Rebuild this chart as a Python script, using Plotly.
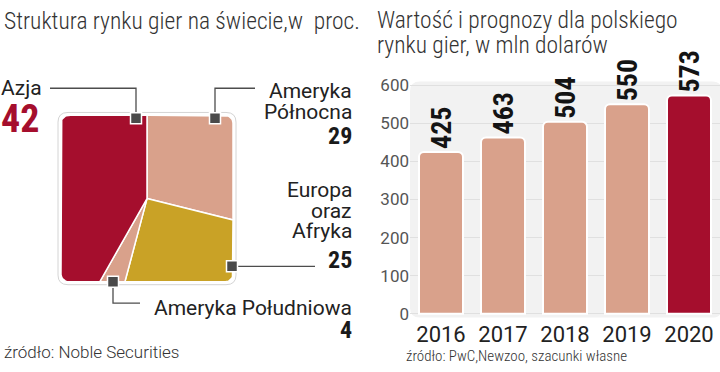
import numpy as np
import plotly.graph_objects as go

# ---------------- data ----------------
pie_labels = ["Ameryka Północna", "Europa oraz Afryka", "Ameryka Południowa", "Azja"]
pie_values = [29, 25, 4, 42]
pie_colors = ["#d9a18b", "#c9a226", "#d9a18b", "#a50e2d"]

years = ["2016", "2017", "2018", "2019", "2020"]
market_values = [425, 463, 504, 550, 573]
bar_colors = ["#d9a18b", "#d9a18b", "#d9a18b", "#d9a18b", "#a50e2d"]
y_ticks = [0, 100, 200, 300, 400, 500, 600]

title_left = "Struktura rynku gier na świecie,w\u00a0 proc."
title_right = ["Wartość i prognozy dla polskiego", "rynku gier, w mln dolarów"]
source_left = "źródło: Noble Securities"
source_right = "źródło: PwC,Newzoo, szacunki własne"

W, H = 720, 372
COND = "Roboto Condensed, Roboto"
SANS = "Roboto"


def px(x):
    return x / W


def py(y):
    return 1 - y / H


def rrect_path(x0, y0, x1, y1, r):
    rx, ry = r, r
    s = (f"M {px(x0 + rx)} {py(y0)} L {px(x1 - rx)} {py(y0)} "
         f"Q {px(x1)} {py(y0)} {px(x1)} {py(y0 + ry)} "
         f"L {px(x1)} {py(y1 - ry)} Q {px(x1)} {py(y1)} {px(x1 - rx)} {py(y1)} "
         f"L {px(x0 + rx)} {py(y1)} Q {px(x0)} {py(y1)} {px(x0)} {py(y1 - ry)} "
         f"L {px(x0)} {py(y0 + ry)} Q {px(x0)} {py(y0)} {px(x0 + rx)} {py(y0)} Z")
    return s


fig = go.Figure()

# ---------------- bar chart ----------------
fig.add_trace(go.Bar(
    x=years, y=market_values, marker=dict(color=bar_colors, line=dict(color="white", width=2)),
    width=0.71, text=market_values, texttemplate="%{text}", textposition="outside",
    textangle=-90, constraintext="none", cliponaxis=False,
    textfont=dict(family=COND, size=28, color="#141414", weight="bold"),
    xaxis="x", yaxis="y", showlegend=False, hoverinfo="skip",
))

# ---------------- square pie ----------------
cx, cy, hs, cr = 147, 199, 86, 8


def edge_point(theta):
    dx, dy = np.sin(theta), -np.cos(theta)
    t = hs / max(abs(dx), abs(dy))
    ex, ey = t * dx, t * dy
    if abs(ex) > hs - cr and abs(ey) > hs - cr:
        c0, c1 = np.sign(ex) * (hs - cr), np.sign(ey) * (hs - cr)
        dc = dx * c0 + dy * c1
        t = dc + np.sqrt(dc * dc - (c0 * c0 + c1 * c1) + cr * cr)
        ex, ey = t * dx, t * dy
    return cx + ex, cy + ey


total = sum(pie_values)
cum = 0.0
for lab, val, col in zip(pie_labels, pie_values, pie_colors):
    a0 = 2 * np.pi * cum / total
    a1 = 2 * np.pi * (cum + val) / total
    cum += val
    n = max(4, int(600 * val / total))
    angs = np.linspace(a0, a1, n)
    xs, ys = [cx], [cy]
    for a in angs:
        ex, ey = edge_point(a)
        xs.append(ex)
        ys.append(ey)
    xs.append(cx)
    ys.append(cy)
    fig.add_trace(go.Scatter(
        x=xs, y=ys, fill="toself", fillcolor=col, mode="lines",
        line=dict(color="white", width=1.5), xaxis="x2", yaxis="y2",
        showlegend=False, hoverinfo="skip", name=lab,
    ))

# leader lines
leaders = [
    ([50, 136, 136], [85, 85, 116]),
    ([215, 215, 255], [116, 85, 85]),
    ([232, 315], [269, 269]),
    ([113, 113, 140], [285, 307, 307]),
]
for lx, ly in leaders:
    fig.add_trace(go.Scatter(x=lx, y=ly, mode="lines", line=dict(color="#4d4d4d", width=1.3),
                             xaxis="x2", yaxis="y2", showlegend=False, hoverinfo="skip"))
fig.add_trace(go.Scatter(
    x=[136, 215, 232, 113], y=[116, 116, 269, 285], mode="markers",
    marker=dict(symbol="square", size=11, color="#4a4a4a", line=dict(color="white", width=1.5)),
    xaxis="x2", yaxis="y2", showlegend=False, hoverinfo="skip",
))

# ---------------- shapes ----------------
shapes = [
    dict(type="path", path=rrect_path(410, 78, 722, 322, 10), xref="paper", yref="paper",
         fillcolor="#f2f2f2", line=dict(width=0), layer="below"),
    dict(type="path", path=rrect_path(cx - hs - 3, cy - hs - 3, cx + hs + 3, cy + hs + 3, 10),
         xref="paper", yref="paper", fillcolor="white", line=dict(color="#d4d4d4", width=1),
         layer="below"),
]

# ---------------- annotations ----------------
ann = []


def text(x, y, s, size, color="#222", family=SANS, anchor="left", weight="normal"):
    ann.append(dict(x=px(x), y=py(y), xref="paper", yref="paper", text=s, showarrow=False,
                    xanchor=anchor, yanchor="middle",
                    font=dict(family=family, size=size, color=color, weight=weight)))


text(2, 15, title_left, 23.5, "#333", COND, weight=300)
text(375, 14, title_right[0], 23.5, "#333", COND, weight=300)
text(375, 40, title_right[1], 23.5, "#333", COND, weight=300)

text(-1, 85, "Azja", 21)
text(-1, 117, "42", 38, "#a50e2d", COND, weight="bold")
text(354, 88, "Ameryka", 21, anchor="right")
text(354, 110, "Północna", 21, anchor="right")
text(354, 134, "29", 24, "#1a1a1a", COND, anchor="right", weight="bold")
text(354, 190, "Europa", 21, anchor="right")
text(354, 212, "oraz", 21, anchor="right")
text(354, 233, "Afryka", 21, anchor="right")
text(354, 262, "25", 24, "#1a1a1a", COND, anchor="right", weight="bold")
text(354, 312, "Ameryka Południowa", 21, anchor="right")
text(354, 335, "4", 24, "#1a1a1a", COND, anchor="right", weight="bold")

text(2, 358, source_left, 17, "#333", SANS, weight=300)
text(404, 362, source_right, 15, "#333", COND, weight=300)

fig.update_layout(
    width=W, height=H, margin=dict(l=0, r=0, t=0, b=0),
    paper_bgcolor="white", plot_bgcolor="rgba(0,0,0,0)",
    barcornerradius=5, shapes=shapes, annotations=ann,
    xaxis=dict(domain=[px(410), 1], anchor="y", type="category", range=[-0.5, 4.5],
               showgrid=False, zeroline=False, showline=False, ticks="", ticklabelstandoff=1,
               tickfont=dict(family=SANS, size=22, color="#222")),
    yaxis=dict(domain=[py(322), py(78)], anchor="x", range=[-10, 610], tickvals=y_ticks,
               showgrid=True, gridcolor="#e0e0e0", gridwidth=1, zeroline=False, showline=False,
               ticks="", tickfont=dict(family=SANS, size=17, color="#555")),
    xaxis2=dict(domain=[0, 1], anchor="y2", range=[0, W], visible=False, fixedrange=True),
    yaxis2=dict(domain=[0, 1], anchor="x2", range=[H, 0], visible=False, fixedrange=True),
)

fig.write_html("out.html", config={"displayModeBar": False},
               post_script="document.body.style.margin='0';")
